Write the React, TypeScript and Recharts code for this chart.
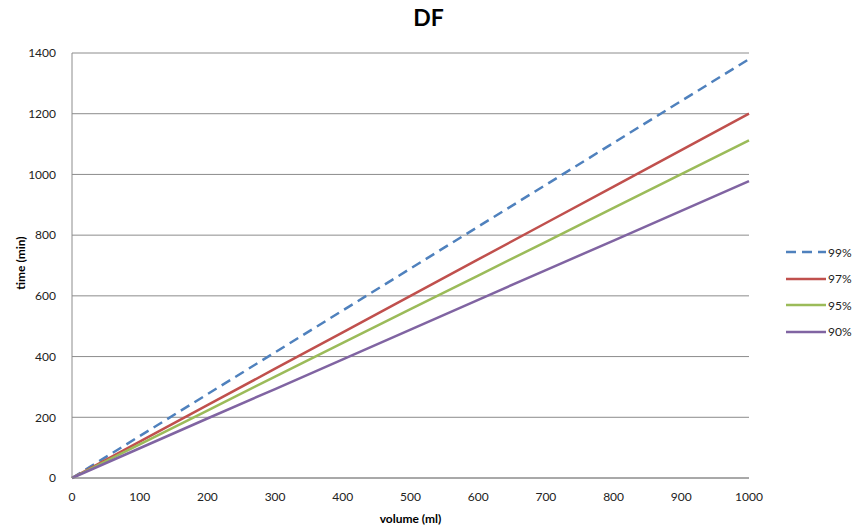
import React from "react";
import { LineChart, Line, XAxis, YAxis, CartesianGrid, Label } from "recharts";

const volumes = [0, 100, 200, 300, 400, 500, 600, 700, 800, 900, 1000];
const pct99 = [0, 138, 276, 414, 552, 690, 828, 966, 1104, 1242, 1380];
const pct97 = [0, 120, 240, 360, 480, 600, 720, 840, 960, 1080, 1200];
const pct95 = [0, 111, 222, 334, 445, 556, 667, 778, 890, 1001, 1112];
const pct90 = [0, 98, 196, 293, 391, 489, 587, 685, 782, 880, 978];
const yTicks = [0, 200, 400, 600, 800, 1000, 1200, 1400];

const data = volumes.map((v, i) => ({
  volume: v,
  p99: pct99[i],
  p97: pct97[i],
  p95: pct95[i],
  p90: pct90[i],
}));

const series = [
  { key: "p99", name: "99%", color: "#4F81BD", dash: "10 6" },
  { key: "p97", name: "97%", color: "#C0504D" },
  { key: "p95", name: "95%", color: "#9BBB59" },
  { key: "p90", name: "90%", color: "#8064A2" },
];

const font = "Lato, 'Open Sans', sans-serif";

function LegendBox() {
  return (
    <div
      style={{
        position: "absolute",
        left: 786,
        top: 239,
        fontFamily: font,
        fontSize: 12,
        color: "#222",
      }}
    >
      {series.map((s) => (
        <div
          key={s.key}
          style={{ display: "flex", alignItems: "center", height: 26.5 }}
        >
          <svg width={42} height={6}>
            <line
              x1={0}
              y1={3}
              x2={40}
              y2={3}
              stroke={s.color}
              strokeWidth={2.5}
              strokeDasharray={s.dash}
            />
          </svg>
          <span>{s.name}</span>
        </div>
      ))}
    </div>
  );
}

export default function App() {
  return (
    <div
      style={{
        position: "absolute",
        left: 0,
        top: 0,
        width: 857,
        height: 528,
        background: "#fff",
        fontFamily: font,
      }}
    >
      <div
        style={{
          position: "absolute",
          left: 0,
          width: 857,
          top: 3,
          textAlign: "center",
          fontWeight: "bold",
          fontSize: 23,
          color: "#000",
        }}
      >
        DF
      </div>
      <LineChart
        width={857}
        height={528}
        data={data}
        margin={{ top: 53, right: 108, bottom: 0, left: 0 }}
      >
        <CartesianGrid vertical={false} stroke="#8c8c8c" strokeWidth={1} />
        <XAxis
          dataKey="volume"
          type="number"
          domain={[0, 1000]}
          ticks={volumes}
          height={50}
          tickLine={false}
          tickMargin={8}
          axisLine={{ stroke: "#8c8c8c" }}
          tick={{ fontSize: 12, fill: "#222", fontFamily: font }}
        >
          <Label
            value="volume (ml)"
            position="insideBottom"
            offset={5}
            style={{ fontWeight: "bold", fontSize: 12, fill: "#000", fontFamily: font }}
          />
        </XAxis>
        <YAxis
          domain={[0, 1400]}
          ticks={yTicks}
          width={72}
          tickLine={false}
          tickMargin={10}
          axisLine={{ stroke: "#8c8c8c" }}
          tick={{ fontSize: 12, fill: "#222", fontFamily: font }}
        >
          <Label
            content={() => (
              <text
                x={20}
                y={263}
                transform="rotate(-90 20 263)"
                textAnchor="middle"
                dominantBaseline="central"
                style={{ fontWeight: "bold", fontSize: 12, fill: "#000", fontFamily: font }}
              >
                time (min)
              </text>
            )}
          />
        </YAxis>
        {series.map((s) => (
          <Line
            key={s.key}
            dataKey={s.key}
            name={s.name}
            stroke={s.color}
            strokeWidth={2.5}
            strokeDasharray={s.dash}
            dot={false}
            activeDot={false}
            isAnimationActive={false}
          />
        ))}
      </LineChart>
      <LegendBox />
    </div>
  );
}
